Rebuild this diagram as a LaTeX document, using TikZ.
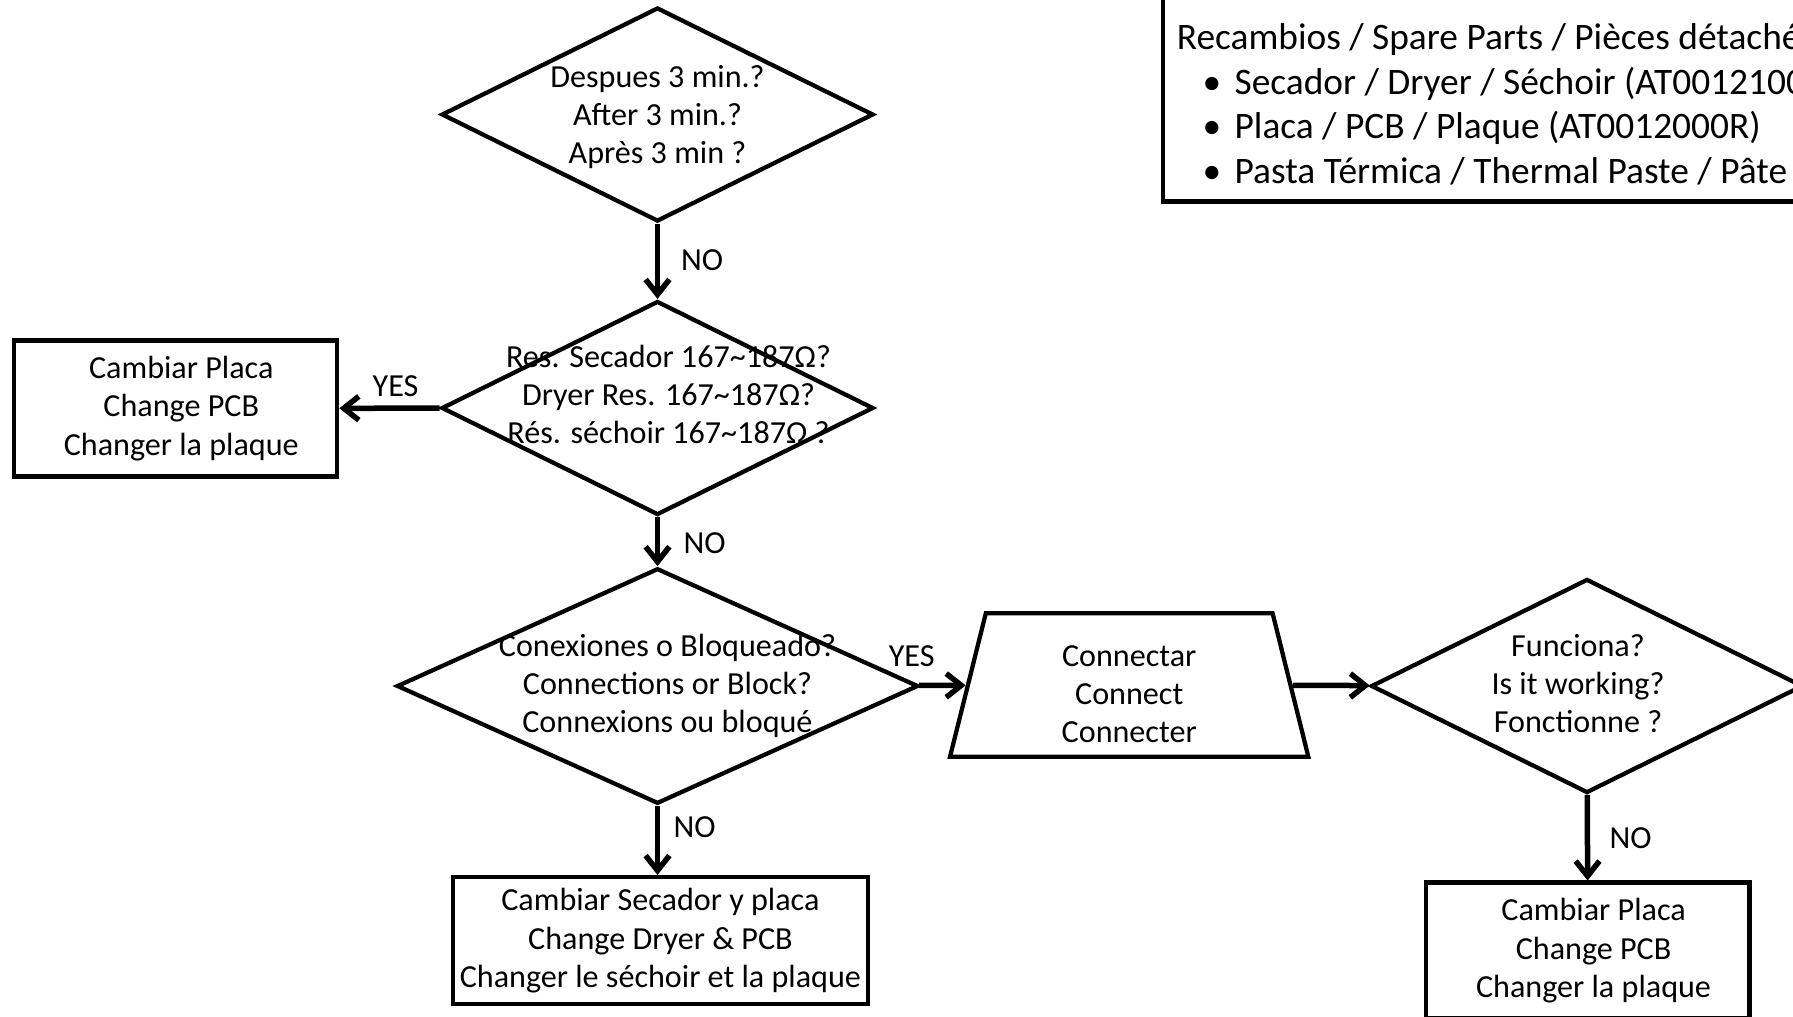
\documentclass[tikz,border=0pt]{standalone}
\usepackage{fontspec}
\setmainfont{Carlito}
\usetikzlibrary{shapes.geometric,arrows.meta}

\newcommand{\sparebullet}{\makebox[23.1pt][r]{•\hspace{5.4pt}}}

\tikzset{
  decision/.style={diamond, draw, line width=1.7pt, inner sep=0pt,
    minimum width=172.8pt, minimum height=85.6pt},
  bigdecision/.style={decision, minimum width=208.6pt, minimum height=94.2pt},
  dtext/.style={align=center},
  action/.style={rectangle, draw, line width=1.7pt, align=center,
    minimum width=129.4pt, minimum height=54.4pt},
  manual/.style={trapezium, draw, line width=1.7pt, inner sep=0pt,
    trapezium left angle=76, trapezium right angle=76,
    text width=114.7pt, text height=28.7pt, text depth=28.7pt},
  flow/.style={-{Straight Barb[length=6pt,width=9.5pt]}, line width=2.2pt},
}

\begin{document}
\begin{tikzpicture}[x=0.4pt, y=-0.4pt, nodes={font=\fontsize{12.85}{15.3}\selectfont}]
\useasboundingbox (0,0) rectangle (1793,1016);
\clip (0,0) rectangle (1793,1016);

% decisions
\node[decision, label={[dtext,yshift=-1pt]center:Despues 3 min.?\\After 3 min.?\\Après 3 min ?}] (q3min) at (657.5,114.5) {};
\node[decision, label={[dtext,xshift=4.4pt,yshift=5.4pt]center:Res. Secador 167\textasciitilde187Ω?\\Dryer Res. 167\textasciitilde187Ω?\\Rés. séchoir 167\textasciitilde187Ω ?}] (qres) at (657.5,408) {};
\node[bigdecision, label={[dtext,xshift=4pt]center:Conexiones o Bloqueado?\\Connections or Block?\\Connexions ou bloqué}] (qconn) at (657.5,686) {};
\node[decision, label={[dtext,xshift=-3.6pt,yshift=1pt]center:Funciona?\\Is it working?\\Fonctionne ?}] (qwork) at (1587,686) {};

% actions
\node[action, label={[dtext,xshift=2.3pt]center:Cambiar Placa\\Change PCB\\Changer la plaque}] (pcbA) at (175.5,408.4) {};
\node[action, minimum width=166pt, minimum height=50.8pt, inner xsep=2pt] (dryerpcb) at (660.4,940.6) {Cambiar Secador y placa\\Change Dryer \& PCB\\Changer le séchoir et la plaque};
\node[manual, label={[dtext,text width=,text height=,text depth=,yshift=-3.7pt]center:Connectar\\Connect\\Connecter}] (connect) at (1129.2,685) {};
\node[action, label={[dtext,xshift=2.3pt]center:Cambiar Placa\\Change PCB\\Changer la plaque}] (pcbB) at (1587.8,950.6) {};

% spare parts
\node[draw, line width=1.7pt, anchor=south west, align=left, inner xsep=5.5pt,
  minimum height=83.4pt, font=\fontsize{14.95}{17.8}\selectfont] (spares) at (1161,203.5)
  {\rule{0pt}{18pt}Recambios / Spare Parts / Pièces détachées\\
   \sparebullet Secador / Dryer / Séchoir (AT0012100R)\\
   \sparebullet Placa / PCB / Plaque (AT0012000R)\\
   \sparebullet Pasta Térmica / Thermal Paste / Pâte thermique};

% connectors
\draw[flow] (q3min) -- node[right, xshift=5pt, pos=0.48] (no1) {NO} (qres);
\draw[flow] (qres) -- node[above, xshift=2.4pt] (yes1) {YES} (pcbA);
\draw[flow] (qres) -- node[right, xshift=6pt, pos=0.53] (no2) {NO} (qconn);
\draw[flow] (qconn) -- node[above, pos=0, xshift=-3pt, yshift=3pt] (yes2) {YES} (connect);
\draw[flow] (qconn.south) -- node[right, pos=0.31, xshift=2pt] (no3) {NO} (qconn.south |- dryerpcb.north);
\draw[flow] (connect) -- (qwork);
\draw[flow] (qwork) -- node[right, xshift=4.4pt] (no4) {NO} (pcbB);
\end{tikzpicture}
\end{document}
